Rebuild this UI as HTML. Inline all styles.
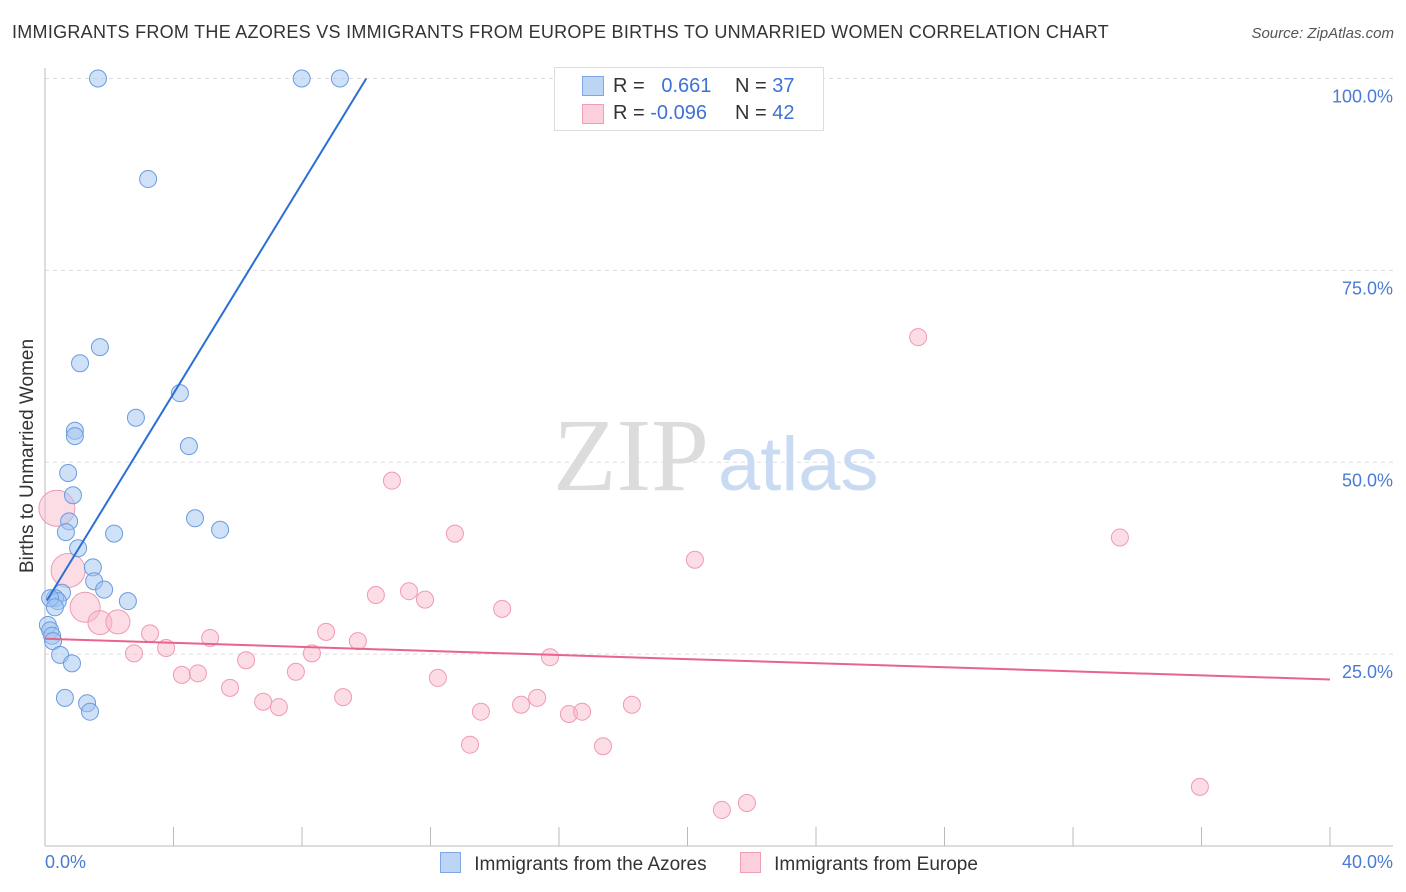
<!DOCTYPE html>
<html><head><meta charset="utf-8"><style>
body{margin:0;background:#fff;font-family:"Liberation Sans",sans-serif}
#wrap{position:relative;width:1406px;height:892px;overflow:hidden}
.t{position:absolute;white-space:nowrap}
</style></head><body>
<div id="wrap">
<div class="t" style="left:12px;top:22px;font-size:18px;letter-spacing:0.28px;color:#333">IMMIGRANTS FROM THE AZORES VS IMMIGRANTS FROM EUROPE BIRTHS TO UNMARRIED WOMEN CORRELATION CHART</div>
<div class="t" style="right:12px;top:25px;font-size:15px;color:#555;font-style:italic">Source: ZipAtlas.com</div>
<svg id="svg" width="1406" height="892" style="position:absolute;left:0;top:0"></svg>
</div>
<script>
const blueX=[1.65,7.99,9.18,3.21,1.71,1.09,4.20,2.83,0.93,0.93,4.48,0.72,0.87,0.75,0.65,4.67,5.45,2.15,1.03,1.49,1.53,1.84,2.58,0.53,0.31,0.40,0.16,0.31,0.09,0.16,0.22,0.25,0.47,0.84,0.62,1.31,1.40];
const blueY=[100,100,100,86.9,65.0,62.9,59.0,55.8,54.1,53.4,52.1,48.6,45.7,42.3,40.9,42.7,41.2,40.7,38.8,36.3,34.5,33.4,31.9,33.0,32.3,31.9,32.3,31.1,28.8,28.1,27.4,26.7,24.9,23.8,19.3,18.6,17.5];
const pinkX=[0.37,0.72,1.25,1.71,2.27,3.27,2.77,3.77,4.26,4.76,5.14,5.76,6.26,6.79,7.28,7.81,8.31,8.75,9.28,9.74,10.30,10.80,11.33,11.83,12.23,12.76,13.23,13.57,14.23,14.82,15.32,15.72,16.31,16.72,17.37,18.27,20.23,21.07,21.85,27.18,33.46,35.95];
const pinkY=[44.0,35.9,31.1,29.1,29.2,27.7,25.1,25.8,22.3,22.5,27.1,20.6,24.2,18.8,18.1,22.7,25.1,27.9,19.4,26.7,32.7,47.6,33.2,32.1,21.9,40.7,13.2,17.5,30.9,18.4,19.3,24.6,17.2,17.5,13.0,18.4,37.3,4.7,5.6,66.3,40.2,7.7];
const pinkSize=[18,17,15,12,12,8.5,8.5,8.5,8.5,8.5,8.5,8.5,8.5,8.5,8.5,8.5,8.5,8.5,8.5,8.5,8.5,8.5,8.5,8.5,8.5,8.5,8.5,8.5,8.5,8.5,8.5,8.5,8.5,8.5,8.5,8.5,8.5,8.5,8.5,8.5,8.5,8.5];
const blueLine=[[0.06,32],[10.0,100]];
const pinkLine=[[0,27.0],[40,21.7]];
const yTicks=[25,50,75,100];
const yLabels=["25.0%","50.0%","75.0%","100.0%"];
const xTicks=[0,4,8,12,16,20,24,28,32,36,40];

const X=v=>45+v/40*1285, Y=v=>846-v/100*767.5;
const svg=document.getElementById('svg');
const NS='http://www.w3.org/2000/svg';
function mk(tag,attrs,parent){const e=document.createElementNS(NS,tag);for(const k in attrs)e.setAttribute(k,attrs[k]);(parent||svg).appendChild(e);return e;}

yTicks.forEach((t,i)=>{
 const g=mk('line',{x1:45,x2:1393,y1:Y(t),y2:Y(t),stroke:'#ddd','stroke-dasharray':'4,4'});
 
 
 const tx=mk('text',{x:1393,y:Y(t)+24,'text-anchor':'end','font-size':18,fill:'#4a7bd4','font-family':'Liberation Sans, sans-serif'});
 tx.textContent=yLabels[i];
 
 
});
const ax=mk('line',{x1:45,x2:45,y1:68,y2:846,stroke:'#bbb'});


const bx=mk('line',{x1:45,x2:1393,y1:846,y2:846,stroke:'#bbb'});


xTicks.forEach(t=>{const l=mk('line',{x1:X(t),x2:X(t),y1:827,y2:846,stroke:'#bbb'});
 
 });

const wm=mk('text',{x:553,y:490,'font-size':104,fill:'#dcdcdc','font-family':'Liberation Serif, serif'});wm.textContent='ZIP';


const wm2=mk('text',{x:718,y:490,'font-size':76,fill:'#c9daf3','font-family':'Liberation Sans, sans-serif'});wm2.textContent='atlas';



pinkX.forEach((v,i)=>{const c=mk('circle',{cx:X(v),cy:Y(pinkY[i]),r:pinkSize[i],fill:'rgba(248,180,200,0.45)',stroke:'#ef9ab4','stroke-width':1});
 
 });
blueX.forEach((v,i)=>{const c=mk('circle',{cx:X(v),cy:Y(blueY[i]),r:8.5,fill:'rgba(160,195,240,0.5)',stroke:'#6b9be0','stroke-width':1});
 
 });
const bl=mk('line',{x1:X(blueLine[0][0]),y1:Y(blueLine[0][1]),x2:X(blueLine[1][0]),y2:Y(blueLine[1][1]),stroke:'#2b6fd6','stroke-width':2});


const pl=mk('line',{x1:X(pinkLine[0][0]),y1:Y(pinkLine[0][1]),x2:X(pinkLine[1][0]),y2:Y(pinkLine[1][1]),stroke:'#e8648e','stroke-width':2});


</script>
<div class="t" style="left:28px;top:456px;font-size:19px;color:#333;transform:translate(-50%,-50%) rotate(-90deg)">Births to Unmarried Women</div>
<div class="t" style="left:45px;top:852px;font-size:18px;color:#4a7bd4">0.0%</div>
<div class="t" style="right:13px;top:852px;font-size:18px;color:#4a7bd4">40.0%</div>
<div style="position:absolute;left:554px;top:67px;width:268px;height:62px;border:1px solid #ddd;background:#fff;font-size:20px">
 <div style="position:absolute;left:27px;top:8px;width:20px;height:18px;background:#bcd5f5;border:1px solid #7ea7e4"></div>
 <div class="t" style="left:58px;top:7px;color:#333">R = &nbsp;&nbsp;<span style="color:#3f72d6">0.661</span></div>
 <div class="t" style="left:180px;top:7px;color:#333">N = <span style="color:#3f72d6">37</span></div>
 <div style="position:absolute;left:27px;top:36px;width:20px;height:18px;background:#fbd0dc;border:1px solid #ee9fb6"></div>
 <div class="t" style="left:58px;top:34px;color:#333">R = <span style="color:#3f72d6">-0.096</span></div>
 <div class="t" style="left:180px;top:34px;color:#333">N = <span style="color:#3f72d6">42</span></div>
</div>
<div style="position:absolute;left:440px;top:852px;font-size:19px;color:#333">
 <span style="display:inline-block;width:19px;height:19px;background:#bcd5f5;border:1px solid #7ea7e4;vertical-align:-3px"></span>
 <span style="margin-left:8px">Immigrants from the Azores</span>
 <span style="display:inline-block;width:19px;height:19px;background:#fbd0dc;border:1px solid #ee9fb6;vertical-align:-3px;margin-left:28px"></span>
 <span style="margin-left:8px">Immigrants from Europe</span>
</div>
</body></html>
